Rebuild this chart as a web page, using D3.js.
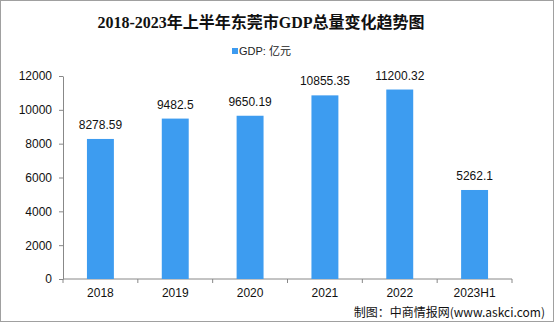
<!DOCTYPE html>
<html><head><meta charset="utf-8">
<script src="https://cdn.jsdelivr.net/npm/d3@7"></script>
<style>body{margin:0;background:#fff}svg{display:block}</style>
</head><body>
<svg id="c" width="554" height="323"></svg>
<script>
const categories = ["2018","2019","2020","2021","2022","2023H1"];
const gdp = [8278.59, 9482.5, 9650.19, 10855.35, 11200.32, 5262.1];
const yTicks = [0,2000,4000,6000,8000,10000,12000];

const svg = d3.select("#c");
const W = 554, H = 323;
svg.append("rect").attr("x",0.5).attr("y",0.5).attr("width",W-1).attr("height",H-2)
  .attr("fill","#fff").attr("stroke","#a0a0a0");

const x = d3.scaleBand().domain(categories).range([63,512]).paddingInner(0.64).paddingOuter(0.32);
const y = d3.scaleLinear().domain([0,12000]).range([279,76]);

svg.append("text").attr("x",261).attr("y",28).attr("text-anchor","middle")
  .attr("font-family","'Liberation Serif','Noto Sans CJK SC',serif").attr("font-weight","bold")
  .attr("font-size",16).attr("fill","#111").text("2018-2023年上半年东莞市GDP总量变化趋势图");

// legend
svg.append("rect").attr("x",232).attr("y",48).attr("width",6).attr("height",6).attr("fill","#3d9bf0");
svg.append("text").attr("x",239).attr("y",55).attr("font-family","'Liberation Sans','Noto Sans CJK SC',sans-serif")
  .attr("font-size",11).attr("fill","#222").text("GDP: 亿元");

// y axis
const ya = svg.append("g").attr("transform","translate(63,0)")
  .call(d3.axisLeft(y).tickValues(yTicks).tickSize(4).tickSizeOuter(0).tickFormat(d3.format("d")));
ya.select(".domain").attr("stroke","#888");
ya.selectAll(".tick line").attr("stroke","#888");
ya.selectAll("text").attr("font-family","'Liberation Sans',Arial,sans-serif").attr("font-size",12).attr("fill","#111").attr("dx",-4);

// x axis with boundary ticks between categories
const xa = svg.append("g").attr("transform","translate(0,279)");
xa.append("line").attr("x1",63).attr("x2",512).attr("stroke","#888");
const bounds = d3.range(categories.length+1).map(i => 63 + i*((512-63)/categories.length));
xa.selectAll("line.b").data(bounds).join("line").attr("class","b")
  .attr("x1",d=>d).attr("x2",d=>d).attr("y1",0).attr("y2",4).attr("stroke","#888");
xa.selectAll("text").data(categories).join("text")
  .attr("x",d=>x(d)+x.bandwidth()/2).attr("y",18).attr("text-anchor","middle")
  .attr("font-family","'Liberation Sans',Arial,sans-serif").attr("font-size",12).attr("fill","#111").text(d=>d);

// bars
svg.selectAll("rect.bar").data(gdp).join("rect").attr("class","bar")
  .attr("x",(d,i)=>x(categories[i])).attr("width",x.bandwidth())
  .attr("y",d=>y(d)).attr("height",d=>279-y(d)).attr("fill","#3d9cf0");

svg.selectAll("text.val").data(gdp).join("text").attr("class","val")
  .attr("x",(d,i)=>x(categories[i])+x.bandwidth()/2).attr("y",d=>y(d)-10)
  .attr("text-anchor","middle").attr("font-family","'Liberation Sans',Arial,sans-serif")
  .attr("font-size",12).attr("fill","#111").text(d=>d);

svg.append("text").attr("x",545).attr("y",317).attr("text-anchor","end")
  .attr("font-family","'Noto Sans CJK SC',sans-serif").attr("font-size",12).attr("fill","#111")
  .text("制图：中商情报网(www.askci.com)");
</script>
</body></html>
